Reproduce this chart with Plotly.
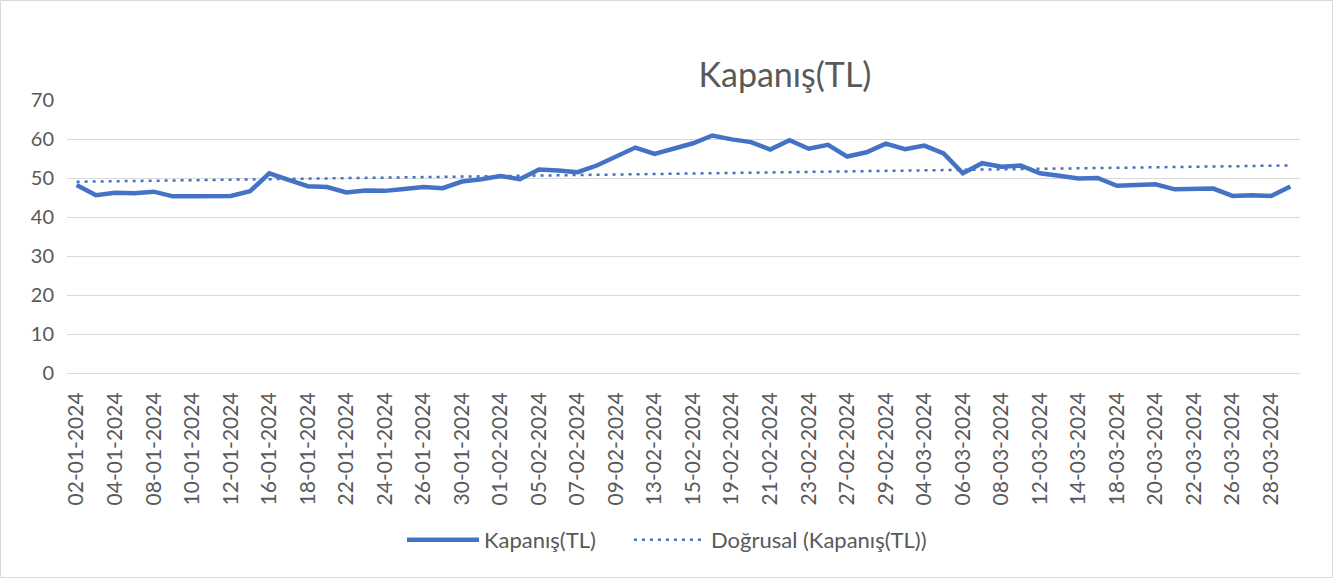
import numpy as np
import plotly.graph_objects as go

dates = [
    "02-01-2024", "03-01-2024", "04-01-2024", "05-01-2024", "08-01-2024", "09-01-2024",
    "10-01-2024", "11-01-2024", "12-01-2024", "15-01-2024", "16-01-2024", "17-01-2024",
    "18-01-2024", "19-01-2024", "22-01-2024", "23-01-2024", "24-01-2024", "25-01-2024",
    "26-01-2024", "29-01-2024", "30-01-2024", "31-01-2024", "01-02-2024", "02-02-2024",
    "05-02-2024", "06-02-2024", "07-02-2024", "08-02-2024", "09-02-2024", "12-02-2024",
    "13-02-2024", "14-02-2024", "15-02-2024", "16-02-2024", "19-02-2024", "20-02-2024",
    "21-02-2024", "22-02-2024", "23-02-2024", "26-02-2024", "27-02-2024", "28-02-2024",
    "29-02-2024", "01-03-2024", "04-03-2024", "05-03-2024", "06-03-2024", "07-03-2024",
    "08-03-2024", "11-03-2024", "12-03-2024", "13-03-2024", "14-03-2024", "15-03-2024",
    "18-03-2024", "19-03-2024", "20-03-2024", "21-03-2024", "22-03-2024", "25-03-2024",
    "26-03-2024", "27-03-2024", "28-03-2024", "29-03-2024",
]

kapanis = [
    48.2, 45.6, 46.2, 46.1, 46.5, 45.3, 45.3, 45.3, 45.4, 46.6,
    51.2, 49.5, 47.9, 47.7, 46.3, 46.8, 46.7, 47.2, 47.7, 47.4,
    49.1, 49.7, 50.5, 49.7, 52.2, 51.9, 51.5, 53.2, 55.5, 57.8,
    56.2, 57.7, 58.9, 60.9, 59.9, 59.2, 57.3, 59.7, 57.5, 58.5,
    55.5, 56.6, 58.8, 57.4, 58.3, 56.3, 51.2, 53.8, 52.9, 53.2,
    51.2, 50.6, 49.9, 50.0, 48.0, 48.2, 48.4, 47.1, 47.3, 47.3,
    45.4, 45.6, 45.4, 47.8,
]

y_ticks = [0, 10, 20, 30, 40, 50, 60, 70]
tick_labels = dates[::2]

# Linear trend line (Excel "Doğrusal") fitted to the series
idx = np.arange(len(kapanis))
slope, intercept = np.polyfit(idx, kapanis, 1)
trend = list(slope * idx + intercept)

BLUE = "#4472C4"
GREY = "#595959"
FONT = "Lato"

fig = go.Figure()
fig.add_trace(go.Scatter(
    x=dates, y=kapanis, mode="lines", name="Kapanış(TL)",
    line=dict(color=BLUE, width=4.5, shape="linear"), legend="legend",
))
fig.add_trace(go.Scatter(
    x=dates, y=trend, mode="lines", name="Doğrusal (Kapanış(TL))",
    line=dict(color=BLUE, width=2.5, dash="3px,5px"), legend="legend2",
))

L, R, T, B = 67, 34, 100, 206
W, H = 1334, 579
pw, ph = W - L - R, H - T - B

def px2paper_x(px):
    return (px - L) / pw

def px2paper_y(py):
    return (H - B - py) / ph

leg_common = dict(orientation="h", y=px2paper_y(540), yanchor="middle", xanchor="left",
                  font=dict(family=FONT, size=22, color=GREY),
                  itemwidth=72, bgcolor="rgba(0,0,0,0)")

fig.update_layout(
    width=W, height=H,
    margin=dict(l=L, r=R, t=T, b=B),
    paper_bgcolor="white", plot_bgcolor="white",
    font=dict(family=FONT, color=GREY, size=20),
    title=dict(text="Kapanış(TL)", x=785 / W, xanchor="center", y=1 - 75 / H, yanchor="middle",
               font=dict(family=FONT, size=34, color=GREY)),
    showlegend=True,
    legend=dict(x=px2paper_x(402), **leg_common),
    legend2=dict(x=px2paper_x(629), **leg_common),
    xaxis=dict(type="category", categoryorder="array", categoryarray=dates,
               range=[-0.5, len(dates) - 0.5],
               tickmode="array", tickvals=tick_labels, ticktext=tick_labels,
               tickangle=-90, showgrid=False, zeroline=False,
               showline=True, linecolor="#D9D9D9", linewidth=1,
               ticks="", ticklabelstandoff=10,
               tickfont=dict(family=FONT, size=21, color=GREY)),
    yaxis=dict(range=[0, 70], tickvals=y_ticks, showgrid=True, gridcolor="#D9D9D9",
               gridwidth=1, zeroline=False, showline=False, ticks="",
               ticklabelstandoff=12,
               tickfont=dict(family=FONT, size=20, color=GREY)),
    shapes=[dict(type="rect", xref="paper", yref="paper",
                 x0=px2paper_x(0.5), x1=px2paper_x(W - 1.5),
                 y0=px2paper_y(H - 1.5), y1=px2paper_y(0.5),
                 line=dict(color="#D9D9D9", width=1), fillcolor="rgba(0,0,0,0)",
                 layer="below")],
)

fig.write_html("out.html", config={"displayModeBar": False},
               post_script="document.body.style.margin='0px';document.body.style.overflow='hidden';")
